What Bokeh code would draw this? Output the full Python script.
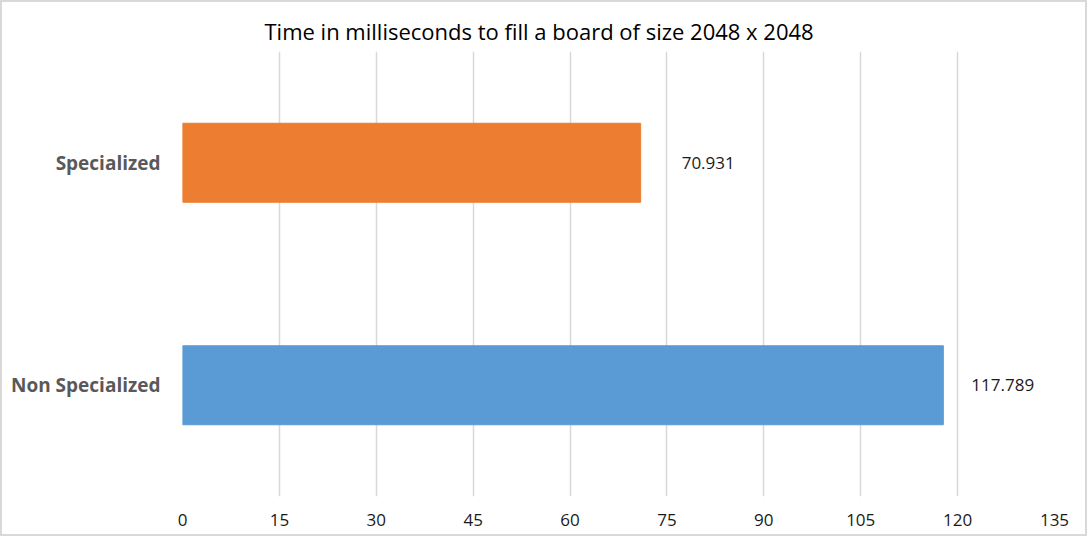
from bokeh.plotting import figure
from bokeh.models import ColumnDataSource, FactorRange, Range1d, FixedTicker
from bokeh.core.properties import value
from bokeh.embed import file_html
from bokeh.resources import INLINE

# ---- data ----
categories = ["Non Specialized", "Specialized"]
times_ms = [117.789, 70.931]
value_labels = ["117.789", "70.931"]
x_ticks = [0, 15, 30, 45, 60, 75, 90, 105, 120, 135]
title_text = "Time in milliseconds to fill a board of size 2048 x 2048"

# ---- styles ----
bar_colors = ["#5B9BD5", "#ED7D31"]
label_offsets = [28, 41]
FONT = "Open Sans"

src = ColumnDataSource(dict(cat=categories, val=times_ms, lab=value_labels,
                            color=bar_colors, off=label_offsets))

W, H = 1087, 536
p = figure(width=W, height=H, title=title_text,
           y_range=FactorRange(factors=categories, range_padding=0),
           x_range=Range1d(0, 135),
           output_backend="svg", toolbar_location=None,
           min_border_left=180, min_border_right=35,
           min_border_top=49, min_border_bottom=42)
p.styles = {"border": "2px solid #D9D9D9"}
p.outline_line_color = None
p.background_fill_color = "white"
p.border_fill_color = "white"

p.title.align = "left"
p.title.offset = 82
p.title.text_font = FONT
p.title.text_font_size = "22px"
p.title.text_font_style = "normal"
p.title.text_color = "#000000"
p.title.standoff = 11

p.hbar(y="cat", left=0, right="val", height=0.355, color="color", source=src)
p.text(x="val", y="cat", text="lab", x_offset="off", source=src,
       text_align="left", text_baseline="middle",
       text_font=value(FONT), text_font_size="17px", text_color="#1a1a1a")

# x axis
p.xaxis.ticker = FixedTicker(ticks=x_ticks)
p.xaxis.axis_line_color = None
p.xaxis.major_tick_line_color = None
p.xaxis.minor_tick_line_color = None
p.xaxis.major_label_text_font = FONT
p.xaxis.major_label_text_font_size = "17px"
p.xaxis.major_label_text_color = "#1a1a1a"
p.xaxis.major_label_standoff = 11

# y axis
p.yaxis.axis_line_color = None
p.yaxis.major_tick_line_color = None
p.yaxis.minor_tick_line_color = None
p.yaxis.major_label_text_font = FONT
p.yaxis.major_label_text_font_size = "19px"
p.yaxis.major_label_text_font_style = "bold"
p.yaxis.major_label_text_color = "#595959"
p.yaxis.major_label_standoff = 16

p.xgrid.grid_line_color = "#D9D9D9"
p.xgrid.grid_line_width = 1.5
p.ygrid.grid_line_color = None

open("out.html", "w").write(file_html(p, INLINE))
